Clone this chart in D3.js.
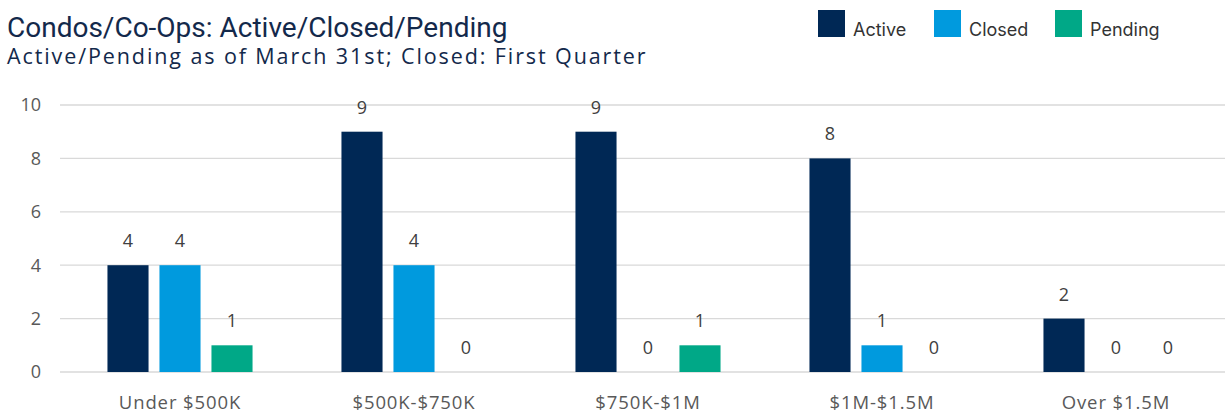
<!DOCTYPE html>
<html>
<head>
<meta charset="utf-8">
<script src="https://cdn.jsdelivr.net/npm/d3@7.9.0/dist/d3.min.js"></script>
<style>
  body { margin: 0; background: #fff; }
  svg { display: block; }
</style>
</head>
<body>
<svg id="chart" width="1225" height="415"></svg>
<script>
const categories = ["Under $500K", "$500K-$750K", "$750K-$1M", "$1M-$1.5M", "Over $1.5M"];
const seriesNames = ["Active", "Closed", "Pending"];
const active = [4, 9, 9, 8, 2];
const closed = [4, 4, 0, 1, 0];
const pending = [1, 0, 1, 0, 0];
const yTicks = [0, 2, 4, 6, 8, 10];
const colors = ["#002855", "#009ADE", "#00A887"];

const title = "Condos/Co-Ops: Active/Closed/Pending";
const subtitle = "Active/Pending as of March 31st; Closed: First Quarter";

let svg = d3.select("#chart");
let margin = { top: 105, right: -8, bottom: 43, left: 63 };
let width = 1225 - margin.left - margin.right;
let height = 415 - margin.top - margin.bottom;

let rows = categories.map((c, i) => ({ cat: c, values: [active[i], closed[i], pending[i]] }));

let xScale = d3.scaleBand().domain(categories).range([0, width]);
let xInner = d3.scaleBand().domain(seriesNames).range([39, xScale.bandwidth() - 39]).paddingInner(0.21).paddingOuter(0.105);
let yScale = d3.scaleLinear().domain([0, 10]).range([height, 0]);

let g = svg.append("g").attr("transform", `translate(${margin.left},${margin.top})`);

// gridlines
g.append("g")
  .selectAll("line")
  .data(yTicks)
  .enter().append("line")
    .attr("x1", -3)
    .attr("x2", width)
    .attr("y1", d => yScale(d))
    .attr("y2", d => yScale(d))
    .attr("stroke", "#d9d9d9")
    .attr("stroke-width", 1.3);

// y tick labels
g.append("g")
  .selectAll("text")
  .data(yTicks)
  .enter().append("text")
    .attr("x", -22)
    .attr("y", d => yScale(d))
    .attr("dy", "0.35em")
    .attr("text-anchor", "end")
    .attr("font-family", "Open Sans, sans-serif")
    .attr("font-size", "18px")
    .attr("fill", "#595959")
    .text(d => d);

// bars
let groups = g.selectAll(".grp")
  .data(rows)
  .enter().append("g")
    .attr("class", "grp")
    .attr("transform", d => `translate(${xScale(d.cat)},0)`);

groups.selectAll("rect")
  .data(d => d.values.map((v, i) => ({ key: seriesNames[i], value: v, i: i })))
  .enter().append("rect")
    .attr("x", d => xInner(d.key))
    .attr("y", d => yScale(d.value))
    .attr("width", xInner.bandwidth())
    .attr("height", d => height - yScale(d.value))
    .attr("fill", d => colors[d.i]);

groups.selectAll("text")
  .data(d => d.values.map((v, i) => ({ key: seriesNames[i], value: v, i: i })))
  .enter().append("text")
    .attr("x", d => xInner(d.key) + xInner.bandwidth() / 2)
    .attr("y", d => yScale(d.value) - 18)
    .attr("text-anchor", "middle")
    .attr("font-family", "Open Sans, sans-serif")
    .attr("font-size", "18px")
    .attr("fill", "#404040")
    .text(d => d.value);

// x labels
g.append("g")
  .selectAll("text")
  .data(categories)
  .enter().append("text")
    .attr("x", d => xScale(d) + xScale.bandwidth() / 2)
    .attr("y", height + 37)
    .attr("text-anchor", "middle")
    .attr("font-family", "Open Sans, sans-serif")
    .attr("font-size", "18.5px")
    .attr("letter-spacing", "0.9px")
    .attr("fill", "#595959")
    .text(d => d);

// title
svg.append("text")
  .attr("x", 7)
  .attr("y", 37)
  .attr("font-family", "Roboto, sans-serif")
  .attr("font-size", "28px")
  .attr("fill", "#13294b")
  .text(title);

svg.append("text")
  .attr("x", 7)
  .attr("y", 64)
  .attr("font-family", "Open Sans, sans-serif")
  .attr("font-size", "21.5px")
  .attr("letter-spacing", "1.9px")
  .attr("fill", "#13294b")
  .text(subtitle);

// legend
const legendX = [818, 934, 1055];
const legend = svg.append("g").attr("class", "legend");
seriesNames.forEach((name, i) => {
  let row = legend.append("g").attr("transform", `translate(${legendX[i]}, 10)`);
  row.append("rect")
    .attr("width", 27)
    .attr("height", 27)
    .attr("fill", colors[i]);
  row.append("text")
    .attr("x", 35)
    .attr("y", 26)
    .attr("font-family", "Inter, sans-serif")
    .attr("font-size", "18px")
    .attr("fill", "#333")
    .text(name);
});
</script>
</body>
</html>
